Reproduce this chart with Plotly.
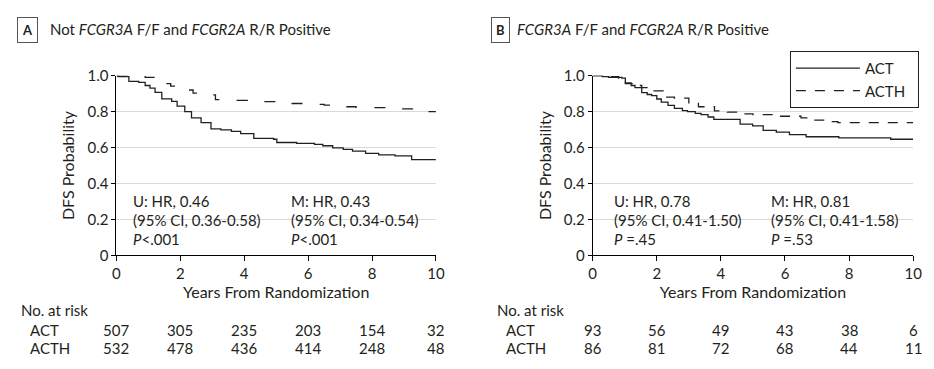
import plotly.graph_objects as go

# ---------------- data ----------------
years_ticks = [0, 2, 4, 6, 8, 10]

# Panel A: Not FCGR3A F/F and FCGR2A R/R positive
a_act_t = [0, 0.05, 0.39, 0.70, 0.90, 1.05, 1.21, 1.42, 1.73, 1.9, 2.14, 2.35, 2.65, 2.96,
           3.27, 3.6, 3.89, 4.3, 4.92, 5.02, 5.64, 6.2, 6.46, 6.77, 7.1, 7.39, 7.8, 8.21,
           8.72, 9.24, 10]
a_act_s = [1.0, 0.995, 0.968, 0.963, 0.945, 0.93, 0.907, 0.871, 0.857, 0.83, 0.80, 0.765,
           0.739, 0.704, 0.698, 0.69, 0.677, 0.651, 0.646, 0.628, 0.623, 0.618, 0.61, 0.598,
           0.59, 0.58, 0.568, 0.559, 0.554, 0.533, 0.533]
a_acth_t = [0, 0.5, 0.9, 1.2, 1.5, 1.7, 2.1, 2.4, 2.8, 3.1, 3.6, 4.1, 4.6, 5.0, 5.5, 5.9,
            6.5, 6.8, 7.5, 7.75, 8.4, 8.7, 9.3, 9.6, 10]
a_acth_s = [1.0, 0.995, 0.99, 0.97, 0.955, 0.942, 0.92, 0.903, 0.893, 0.866, 0.862, 0.859,
            0.855, 0.853, 0.845, 0.84, 0.836, 0.827, 0.824, 0.822, 0.818, 0.815, 0.813,
            0.80, 0.80]

# Panel B: FCGR3A F/F and FCGR2A R/R positive
b_act_t = [0, 0.3, 0.5, 0.91, 1.02, 1.2, 1.32, 1.53, 1.7, 1.84, 2.0, 2.14, 2.35, 2.55,
           2.8, 2.96, 3.2, 3.38, 3.6, 3.78, 4.6, 4.99, 5.32, 5.73, 6.14, 6.66, 7.68, 9.3, 10]
b_act_s = [1.0, 0.995, 0.99, 0.986, 0.96, 0.945, 0.933, 0.906, 0.895, 0.889, 0.87, 0.853,
           0.835, 0.818, 0.805, 0.80, 0.79, 0.783, 0.77, 0.757, 0.73, 0.721, 0.695, 0.686,
           0.672, 0.66, 0.654, 0.646, 0.646]
b_acth_t = [0, 0.3, 0.81, 1.02, 1.3, 1.53, 1.84, 2.2, 2.55, 3.0, 3.3, 3.8, 4.2, 4.6, 5.0,
            5.67, 5.82, 6.5, 6.8, 7.35, 7.65, 10]
b_acth_s = [1.0, 0.995, 0.968, 0.956, 0.945, 0.933, 0.915, 0.88, 0.875, 0.845, 0.827,
            0.804, 0.797, 0.787, 0.783, 0.778, 0.774, 0.765, 0.753, 0.744, 0.739, 0.739]

a_risk_act = [507, 305, 235, 203, 154, 32]
a_risk_acth = [532, 478, 436, 414, 248, 48]
b_risk_act = [93, 56, 49, 43, 38, 6]
b_risk_acth = [86, 81, 72, 68, 44, 11]

a_stats_u = ["U: HR, 0.46", "(95% CI, 0.36-0.58)", "<i>P</i>&lt;.001"]
a_stats_m = ["M: HR, 0.43", "(95% CI, 0.34-0.54)", "<i>P</i>&lt;.001"]
b_stats_u = ["U: HR, 0.78", "(95% CI, 0.41-1.50)", "<i>P</i> =.45"]
b_stats_m = ["M: HR, 0.81", "(95% CI, 0.41-1.58)", "<i>P</i> =.53"]

title_a = "Not <i>FCGR3A</i> F/F and <i>FCGR2A</i> R/R Positive"
title_b = "<i>FCGR3A</i> F/F and <i>FCGR2A</i> R/R Positive"

# ---------------- layout helpers ----------------
W, H = 934, 369
FONT = "Lato, 'Open Sans', sans-serif"
TXT = "#231f20"
def px(x):
    return x / W
def py(y):
    return 1 - y / H

fig = go.Figure()
LINE_C = "#231f20"
DASH = "11px,18px"

fig.add_trace(go.Scatter(x=a_act_t, y=a_act_s, mode="lines", line=dict(color=LINE_C, width=1.3, shape="hv"),
                         showlegend=False, xaxis="x", yaxis="y", cliponaxis=False))
fig.add_trace(go.Scatter(x=a_acth_t, y=a_acth_s, mode="lines", line=dict(color=LINE_C, width=1.3, shape="hv", dash=DASH),
                         showlegend=False, xaxis="x", yaxis="y", cliponaxis=False))
fig.add_trace(go.Scatter(x=b_act_t, y=b_act_s, mode="lines", name="ACT", line=dict(color=LINE_C, width=1.3, shape="hv"),
                         xaxis="x2", yaxis="y2", cliponaxis=False))
fig.add_trace(go.Scatter(x=b_acth_t, y=b_acth_s, mode="lines", name="ACTH&nbsp;&nbsp;", line=dict(color=LINE_C, width=1.3, shape="hv", dash="10px,9px"),
                         xaxis="x2", yaxis="y2", cliponaxis=False))

ydom = [py(258), py(69)]
xa_dom = [px(114), px(438)]
xb_dom = [px(597), px(922)]

def xaxis(dom, anchor):
    return dict(domain=dom, range=[0, 10], anchor=anchor, showgrid=False, zeroline=False,
                showline=True, linecolor="black", linewidth=1, ticks="outside", ticklen=5,
                tickcolor="black", tickvals=years_ticks, tickfont=dict(size=15, color=TXT, family=FONT),
                title=dict(text="Years From Randomization", font=dict(size=16, color=TXT, family=FONT), standoff=3),
                fixedrange=True)

def yaxis(anchor):
    return dict(domain=ydom, range=[0, 1.0], anchor=anchor, showgrid=True, gridcolor="#d9d9d9", gridwidth=1,
                zeroline=False, showline=True, linecolor="black", linewidth=1, ticks="outside", ticklen=4,
                tickcolor="black", tickvals=[0, 0.2, 0.4, 0.6, 0.8, 1.0],
                ticktext=["0", "0.2", "0.4", "0.6", "0.8", "1.0"],
                tickfont=dict(size=15, color=TXT, family=FONT),
                title=dict(text="DFS Probability", font=dict(size=16, color=TXT, family=FONT), standoff=8),
                fixedrange=True)

fig.update_layout(
    width=W, height=H, margin=dict(l=0, r=0, t=0, b=0),
    paper_bgcolor="white", plot_bgcolor="white",
    font=dict(family=FONT, size=15, color=TXT),
    xaxis=xaxis(xa_dom, "y"), yaxis=yaxis("x"),
    xaxis2=xaxis(xb_dom, "y2"), yaxis2=yaxis("x2"),
    legend=dict(x=px(797), y=py(43), xanchor="left", yanchor="top", bordercolor=TXT, borderwidth=1,
                bgcolor="white", font=dict(size=15, family=FONT, color=TXT), itemwidth=64, tracegroupgap=0),
    showlegend=True,
)

ann = []
# panel labels
for lbl, x0, x_title, ttl in [("A", 24, 45, title_a), ("B", 504, 518, title_b)]:
    ann.append(dict(text="<b>%s</b>" % lbl, x=px(x0), y=py(21), xref="paper", yref="paper",
                    xanchor="center", yanchor="middle", showarrow=False, font=dict(size=13, family=FONT, color=TXT),
                    bordercolor="#555", borderwidth=1, borderpad=4))
    ann.append(dict(text=ttl, x=px(x_title), y=py(20), xref="paper", yref="paper",
                    xanchor="left", yanchor="middle", showarrow=False, font=dict(size=15, family=FONT, color=TXT)))

# stats text
for xr, xu, xm, su, sm in [("x", 0.45, 5.4, a_stats_u, a_stats_m),
                           ("x2", 0.6, 5.5, b_stats_u, b_stats_m)]:
    for x0, lines in [(xu, su), (xm, sm)]:
        for i, t in enumerate(lines):
            ann.append(dict(text=t, x=x0, y=py(201 + 20 * i), xref=xr, yref="paper",
                            xanchor="left", yanchor="middle", showarrow=False, font=dict(size=15, family=FONT, color=TXT)))

# at-risk tables
for xr, x_no, x_lbl, r_act, r_acth in [("x", 15, 24, a_risk_act, a_risk_acth),
                                       ("x2", 498, 507, b_risk_act, b_risk_acth)]:
    ann.append(dict(text="No. at risk", x=px(x_no), y=py(315), xref="paper", yref="paper",
                    xanchor="left", yanchor="middle", showarrow=False, font=dict(size=15, family=FONT, color=TXT)))
    for lab, yy, vals in [("ACT", 336, r_act), ("ACTH", 355, r_acth)]:
        ann.append(dict(text=lab, x=px(x_lbl), y=py(yy), xref="paper", yref="paper",
                        xanchor="left", yanchor="middle", showarrow=False, font=dict(size=15, family=FONT, color=TXT)))
        for t, v in zip(years_ticks, vals):
            ann.append(dict(text=str(v), x=t, y=py(yy), xref=xr, yref="paper",
                            xanchor="center", yanchor="middle", showarrow=False, font=dict(size=15, family=FONT, color=TXT)))

fig.update_layout(annotations=ann)
fig.write_html("out.html")
